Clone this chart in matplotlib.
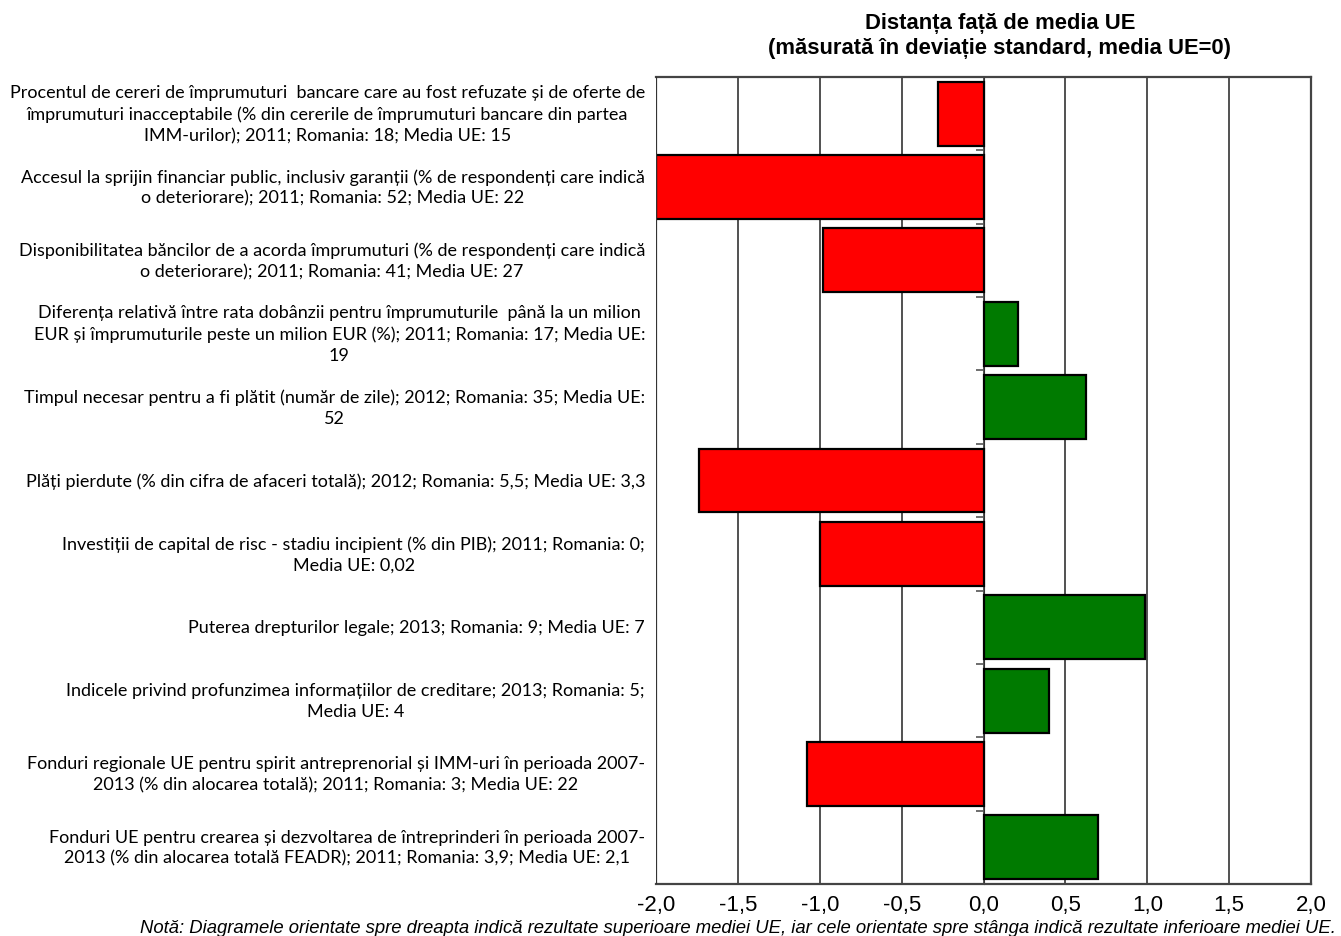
import matplotlib
matplotlib.use("Agg")
import matplotlib.pyplot as plt
import numpy as np
from matplotlib.ticker import FuncFormatter, FixedLocator
from matplotlib.transforms import blended_transform_factory

categories = [
    "Procentul de cereri de împrumuturi  bancare care au fost refuzate și de oferte de\nîmprumuturi inacceptabile (% din cererile de împrumuturi bancare din partea\nIMM-urilor); 2011; Romania: 18; Media UE: 15",
    "Accesul la sprijin financiar public, inclusiv garanții (% de respondenți care indică\no deteriorare); 2011; Romania: 52; Media UE: 22",
    "Disponibilitatea băncilor de a acorda împrumuturi (% de respondenți care indică\no deteriorare); 2011; Romania: 41; Media UE: 27",
    "Diferența relativă între rata dobânzii pentru împrumuturile  până la un milion\nEUR și împrumuturile peste un milion EUR (%); 2011; Romania: 17; Media UE:\n19",
    "Timpul necesar pentru a fi plătit (număr de zile); 2012; Romania: 35; Media UE:\n52",
    "Plăți pierdute (% din cifra de afaceri totală); 2012; Romania: 5,5; Media UE: 3,3",
    "Investiții de capital de risc - stadiu incipient (% din PIB); 2011; Romania: 0;\nMedia UE: 0,02",
    "Puterea drepturilor legale; 2013; Romania: 9; Media UE: 7",
    "Indicele privind profunzimea informațiilor de creditare; 2013; Romania: 5;\nMedia UE: 4",
    "Fonduri regionale UE pentru spirit antreprenorial și IMM-uri în perioada 2007-\n2013 (% din alocarea totală); 2011; Romania: 3; Media UE: 22",
    "Fonduri UE pentru crearea și dezvoltarea de întreprinderi în perioada 2007-\n2013 (% din alocarea totală FEADR); 2011; Romania: 3,9; Media UE: 2,1",
]
values = [-0.28, -2.0, -0.98, 0.21, 0.625, -1.74, -1.0, 0.985, 0.40, -1.08, 0.70]
x_ticks = [-2.0, -1.5, -1.0, -0.5, 0.0, 0.5, 1.0, 1.5, 2.0]

title = "Distanța față de media UE\n(măsurată în deviație standard, media UE=0)"
note = ("Notă: Diagramele orientate spre dreapta indică rezultate superioare mediei UE, "
        "iar cele orientate spre stânga indică rezultate inferioare mediei UE.")

RED = "#FF0000"
GREEN = "#007A00"

fig = plt.figure(figsize=(13.41, 9.37), dpi=100)
ax = fig.add_axes([656/1341, 1-885/937, (1311-656)/1341, (885-78)/937])

n = len(values)
y = np.arange(n)
colors = [GREEN if v > 0 else RED for v in values]
ax.barh(y, values, height=0.87, color=colors, edgecolor="black", linewidth=1.6, zorder=3)

ax.set_xlim(-2.0, 2.0)
ax.set_ylim(n - 0.5, -0.5)
ax.xaxis.set_major_locator(FixedLocator(x_ticks))
ax.xaxis.set_major_formatter(FuncFormatter(lambda v, p: f"{v:.1f}".replace(".", ",")))
ax.xaxis.grid(True, color="#333333", linewidth=1.2, zorder=1)
ax.tick_params(axis="x", length=0, pad=7)
for lab in ax.get_xticklabels():
    lab.set_family(["Liberation Sans Narrow", "Liberation Sans"])
    lab.set_fontsize(16)

# y axis at zero with ticks between categories
ax.spines["left"].set_position(("data", 0))
ax.spines["left"].set_color("#333333")
ax.yaxis.set_major_locator(FixedLocator(np.arange(n + 1) - 0.5))
ax.yaxis.set_major_formatter(FuncFormatter(lambda v, p: ""))
ax.tick_params(axis="y", length=6, width=1.2, color="#555555", direction="out")
ax.axvline(-2.0, color="#333333", linewidth=1.6, zorder=4)
for s in ["top", "right", "bottom"]:
    ax.spines[s].set_color("#444444")
    ax.spines[s].set_linewidth(1.6)

trans = blended_transform_factory(ax.transAxes, ax.transData)
for i, lab in enumerate(categories):
    ax.text(-11/655, i, lab, transform=trans, ha="right", va="center",
            multialignment="center", fontsize=13, linespacing=1.38,
            family=["Lato", "DejaVu Sans"], color="#000000")

fig.text(1000/1341, 1-36/937, title, ha="center", va="center", fontsize=15.8,
         fontweight="bold", family=["Liberation Sans", "DejaVu Sans"], linespacing=1.2)
fig.text(738/1341, 1-929/937, note, ha="center", va="center", fontsize=13.3,
         style="italic", family=["Liberation Sans Narrow", "Liberation Sans"])

fig.savefig("out.png", dpi=100)
